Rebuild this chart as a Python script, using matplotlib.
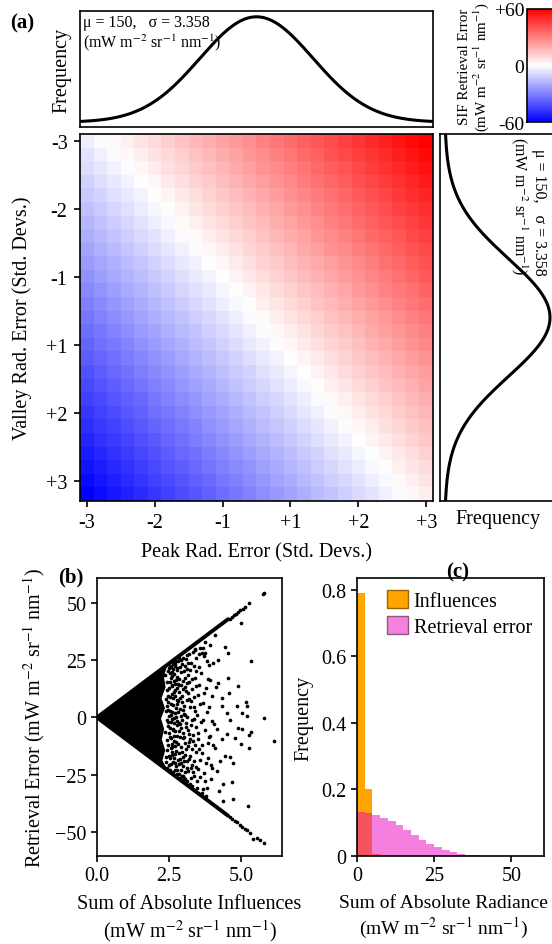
import numpy as np
import matplotlib
matplotlib.use("Agg")
import matplotlib.pyplot as plt
from matplotlib.patches import Patch

plt.rcParams['font.family'] = ['Liberation Serif', 'DejaVu Serif']
plt.rcParams['mathtext.fontset'] = 'stix'
plt.rcParams['axes.linewidth'] = 1.2
for ax_name in ('xtick', 'ytick'):
    plt.rcParams[f'{ax_name}.major.width'] = 1.2
    plt.rcParams[f'{ax_name}.major.size'] = 4
    plt.rcParams[f'{ax_name}.labelsize'] = 14.5
    plt.rcParams[f'{ax_name}.direction'] = 'out'

# ---------------- data ----------------
# radiance distribution used to perturb peak and valley
rad_mu = 150.0
rad_sigma = 3.358

std_labels = ['-3', '-2', '-1', '+1', '+2', '+3']
std_tick_idx = [0, 5, 10, 15, 20, 25]

# SIF error contribution of each peak-radiance step (columns) and valley step (rows)
peak_effect = [-2.0, 0.6, 3.1, 5.7, 8.2, 10.8, 13.4, 15.9, 18.5, 21.0, 23.6, 26.2, 28.7,
               31.3, 33.8, 36.4, 39.0, 41.5, 44.1, 46.6, 49.2, 51.8, 54.3, 56.9, 59.4, 62.0]
valley_effect = [2.0, 4.2, 6.3, 8.5, 10.6, 12.8, 14.9, 17.1, 19.2, 21.4, 23.5, 25.7, 27.8,
                 30.0, 32.1, 34.3, 36.4, 38.6, 40.7, 42.9, 45.0, 47.2, 49.3, 51.5, 53.6,
                 55.8, 57.9]

# (b) solid core of the point cloud, the two dense edges and the scattered points
core_x = [0.0, 2.45, 2.32, 2.38, 2.24, 2.36, 2.22, 2.33, 2.25, 2.37, 2.27, 2.45]
core_y = [0.0, 23.1, 18.0, 13.2, 8.5, 4.0, -0.5, -5.0, -9.6, -14.4, -18.8, -23.1]
edge_x = [0.0, 4.55]
edge_hi = [0.0, 43.0]
edge_lo = [0.0, -43.0]

infl_sum = [
    2.35, 2.38, 2.42, 2.44, 2.46, 2.48, 2.50, 2.52, 2.53, 2.55, 2.57, 2.58, 2.60, 2.61, 2.63,
    2.64, 2.66, 2.67, 2.69, 2.70, 2.71, 2.72, 2.74, 2.75, 2.77, 2.78, 2.79, 2.80, 2.43, 2.51,
    2.56, 2.62, 2.68, 2.73, 2.47, 2.59, 2.65, 2.76, 2.39, 2.45, 2.36, 2.41, 2.49, 2.54, 2.60,
    2.63, 2.66, 2.70, 2.74, 2.78, 2.80, 2.52, 2.58, 2.67, 2.72,
    2.41, 2.43, 2.44, 2.46, 2.47, 2.49, 2.50, 2.51, 2.53, 2.54, 2.55, 2.56, 2.57, 2.58, 2.59,
    2.60, 2.44, 2.48, 2.52, 2.57, 2.42, 2.59,
    2.61, 2.62, 2.63, 2.64, 2.65, 2.66, 2.67, 2.68, 2.69, 2.70, 2.71, 2.72, 2.73, 2.74, 2.75,
    2.76, 2.77, 2.78, 2.79, 2.80, 2.62, 2.68, 2.72, 2.76, 2.64, 2.79,
    2.82, 2.83, 2.85, 2.86, 2.88, 2.90, 2.91, 2.93, 2.94, 2.96, 2.97, 2.99, 3.00, 3.02, 3.03,
    3.05, 3.06, 3.08, 3.09, 3.11, 3.12, 3.14, 3.15, 3.17, 3.18, 3.20, 2.84, 2.92, 2.98, 3.07,
    3.13, 3.19, 2.87, 3.04, 3.16, 2.89, 3.01, 2.95,
    2.81, 2.82, 2.83, 2.84, 2.85, 2.86, 2.87, 2.88, 2.89, 2.90, 2.91, 2.92, 2.93, 2.94, 2.95,
    2.96, 2.97, 2.98, 2.99, 3.00, 2.83, 2.88, 2.97,
    3.01, 3.02, 3.03, 3.04, 3.05, 3.06, 3.07, 3.08, 3.09, 3.10, 3.11, 3.12, 3.13, 3.14, 3.15,
    3.16, 3.17, 3.18, 3.19, 3.20,
    3.22, 3.24, 3.26, 3.28, 3.30, 3.32, 3.34, 3.36, 3.38, 3.40, 3.42, 3.44, 3.46, 3.48, 3.50,
    3.52, 3.54, 3.56, 3.58, 3.60, 3.25, 3.33, 3.41, 3.47, 3.55, 3.29, 3.37, 3.51,
    3.21, 3.23, 3.25, 3.27, 3.29, 3.31, 3.33, 3.35, 3.37, 3.39, 3.23, 3.27, 3.31, 3.35, 3.39,
    3.41, 3.43, 3.45, 3.49, 3.53, 3.57, 3.59, 3.45, 3.53, 3.43,
    3.62, 3.65, 3.68, 3.70, 3.72, 3.75, 3.78, 3.80, 3.83, 3.86, 3.88, 3.90, 3.93, 3.96, 3.99,
    3.66, 3.74, 3.85, 3.69, 3.75, 3.92, 3.98, 3.75, 3.69, 3.92, 3.98,
    3.63, 3.67, 3.71, 3.77, 3.81, 3.84, 3.89, 3.94, 3.64, 3.79,
    4.04, 4.13, 4.21, 4.21, 4.33, 4.33, 4.16, 4.10, 4.27, 4.16, 4.36, 4.33, 4.44, 4.44, 4.05,
    4.08, 4.36, 4.50, 4.24, 4.02,
    4.54, 4.56, 4.58, 4.52, 4.62, 4.62, 4.68, 4.71, 4.73, 4.79, 4.87, 4.91, 4.91, 4.99, 5.00,
    5.02, 5.02, 5.16, 5.20, 5.22, 5.25, 5.29, 5.29, 5.34, 5.34, 5.78, 6.15,
    4.60, 4.68, 4.75, 4.82, 4.90, 4.97, 5.05, 5.12, 5.29, 5.75, 5.80,
    4.60, 4.70, 4.78, 4.85, 4.95, 5.02, 5.12, 5.20, 5.30, 5.43, 5.56, 5.66, 5.80,
]
retr_err = [
    18.5, -17.2, 12.1, -9.8, 20.3, 3.4, -21.0, 15.7, -4.6, 8.9, -13.5, 22.0, -0.8, 18.2, -19.4,
    5.6, -7.9, 11.3, -23.1, 23.4, -15.8, 1.9, 16.6, -10.9, 20.9, -3.2, 7.7, -18.6, -14.3, 0.5,
    -20.2, 13.9, -2.5, -21.3, 6.8, -11.4, 21.1, 12.8, 2.7, -1.9, -6.3, 7.9, -16.8, 19.6, 10.4,
    -5.1, 16.1, -12.7, 4.2, -22.9, 14.8, -8.4, -2.0, -17.6, 22.3,
    -19.5, 15.3, -1.2, -12.0, 9.6, 21.6, -6.8, 12.9, -17.9, 3.0, -22.8, 17.4, -9.0, 6.1, -15.0,
    20.0, 4.8, -3.8, 22.4, 0.9, -22.0, 14.1,
    -13.0, 2.3, 23.5, -23.8, 8.4, -0.2, 19.0, -10.1, 14.6, -6.0, 9.3, -19.8, 0.4, 24.5, -14.6,
    5.7, -24.8, 17.8, -8.1, 2.4, -16.4, 24.0, 12.0, -1.5, -5.6, 21.5,
    24.6, -6.0, 14.2, -24.9, 3.9, -13.1, 19.8, -19.9, 9.5, -1.1, 25.9, -9.2, 16.0, -26.4, 5.1,
    -16.3, 22.4, -4.0, 11.7, -22.0, 27.5, 0.3, -12.6, 18.4, -7.3, 8.2, -15.7, 25.0, -21.1, -27.1,
    14.9, -18.0, 8.3, -11.0, 24.0, -2.9, 1.6, -25.8,
    -11.7, 7.2, -20.4, 17.0, -2.4, 11.3, -18.3, 22.1, -8.4, 0.8, -23.1, 14.0, -4.8, -14.9, 6.6,
    23.2, -17.5, 12.4, -25.7, 3.3, 26.0, -26.5, -6.9,
    -18.9, 20.5, -8.6, 13.5, -24.0, 1.0, 17.1, -14.0, 25.5, -2.6, 7.8, -19.0, -28.0, 21.0, -5.6,
    10.5, -23.6, 27.6, -10.7, 15.4,
    -28.9, 20.7, -3.5, 12.3, -20.6, 28.6, -10.2, 4.4, -25.4, 17.2, -15.1, 25.8, 0.9, -31.0, 9.9,
    -6.6, 21.9, -18.8, 30.4, -2.0, 7.1, -23.7, 30.0, -27.8, 14.3, -13.8, -0.6, -22.5,
    -16.8, 4.6, -26.6, 24.0, -1.3, 16.8, -7.7, 9.0, -19.1, 29.3, -9.5, -22.1, -30.0, 22.5, -12.0,
    2.9, -21.6, 13.6, -9.4, 27.6, -26.0, 6.0, -4.1, -14.0, 20.5,
    19.5, -11.9, 6.2, -24.3, 26.9, -5.3, 13.0, -30.7, 2.2, -17.6, 22.8, -8.6, 31.9, -20.9, 9.4,
    -33.2, 33.0, 16.7, 30.3, 28.4, 16.5, -21.9, -27.7, -31.3, -8.1, -1.6,
    -15.5, -1.0, 10.9, -20.0, 24.5, -11.0, 4.6, -27.0, 28.0, -34.5,
    23.8, 13.3, 15.1, 25.2, 8.6, 4.9, -5.2, -13.2, -19.0, -23.3, -29.1, -9.6, -16.8, 31.0, -2.8,
    36.0, -36.4, -7.4, -32.0, -12.0,
    28.4, 17.2, 10.7, 2.0, -1.3, -17.5, -28.4, -35.7, -20.1, -8.8, 5.2, 13.6, -4.8, -11.7, 41.4,
    2.0, -5.2, 6.7, 0.6, 4.9, -38.6, -7.7, -13.2, 24.5, -6.2, -0.3, -10.2,
    43.2, 44.0, 44.6, 45.4, 46.1, 46.8, 47.6, 48.1, 50.1, 54.2, 54.6,
    -43.4, -44.3, -45.2, -45.8, -46.9, -48.0, -48.6, -49.4, -50.4, -53.0, -52.8, -53.5, -54.8,
]

# (c) normalised histograms, 2.5-wide bins starting at 0
bin_width = 2.5
infl_freq = [0.792, 0.202, 0.006]
err_freq = [0.132, 0.130, 0.122, 0.115, 0.106, 0.093, 0.079, 0.064, 0.049, 0.037,
            0.027, 0.019, 0.012, 0.007, 0.004, 0.002]

units = r'(mW m$^{-2}$ sr$^{-1}$ nm$^{-1}$)'

# ---------------- layout ----------------
W, H = 552, 945
fig = plt.figure(figsize=(W / 100, H / 100), dpi=100)


def box(x0, y0, x1, y1):
    return fig.add_axes([x0 / W, 1 - y1 / H, (x1 - x0) / W, (y1 - y0) / H])


ax_top = box(80, 12, 433, 128)
ax_hm = box(80, 135, 433, 502)
ax_rt = box(440, 135, 556, 502)
cax = box(527, 10, 562, 123)
ax_b = box(97, 579, 282, 857)
ax_c = box(357, 579, 544, 857)

# ---------------- (a) heatmap ----------------
grid = np.array(peak_effect)[None, :] - np.array(valley_effect)[:, None]
im = ax_hm.imshow(grid, cmap='bwr', vmin=-60, vmax=60, aspect='auto',
                  interpolation='nearest')
ax_hm.set_xticks(std_tick_idx, std_labels)
ax_hm.set_yticks(std_tick_idx, std_labels)
ax_hm.tick_params(axis='x', pad=5)
ax_hm.tick_params(axis='y', pad=5)
ax_hm.set_xlabel('Peak Rad. Error (Std. Devs.)', fontsize=14.5, labelpad=7)
ax_hm.set_ylabel('Valley Rad. Error (Std. Devs.)', fontsize=14.5, labelpad=10)

# marginal radiance distributions
span = 3.12 * rad_sigma
rad = np.linspace(rad_mu - span, rad_mu + span, 400)
pdf = np.exp(-0.5 * ((rad - rad_mu) / rad_sigma) ** 2) / (rad_sigma * np.sqrt(2 * np.pi))
pmax = pdf.max()
stat_text = f'μ = {rad_mu:.0f},   σ = {rad_sigma}\n' + units

ax_top.plot(rad, pdf, color='k', lw=2.2)
ax_top.set_xlim(rad[0], rad[-1])
ax_top.set_ylim(-0.045 * pmax, 1.055 * pmax)
ax_top.set_xticks([])
ax_top.set_yticks([])
ax_top.set_ylabel('Frequency', fontsize=14.5, labelpad=6)
ax_top.text(0.008, 0.975, stat_text, transform=ax_top.transAxes, ha='left', va='top',
            fontsize=11.5, linespacing=1.1)

ax_rt.plot(pdf, rad, color='k', lw=2.2)
ax_rt.set_ylim(rad[-1], rad[0])
ax_rt.set_xlim(-0.045 * pmax, 1.057 * pmax)
ax_rt.set_xticks([])
ax_rt.set_yticks([])
ax_rt.set_xlabel('Frequency', fontsize=14.5, labelpad=6)
ax_rt.text(0.92, 0.995, stat_text, transform=ax_rt.transAxes, ha='right', va='top',
           rotation=-90, fontsize=11.5, linespacing=1.1)

cb = fig.colorbar(im, cax=cax, ticks=[-60, 0, 60])
cb.ax.set_yticklabels(['-60', '0', '+60'])
cax.yaxis.set_ticks_position('left')
cax.yaxis.set_label_position('left')
cax.tick_params(length=0, pad=2, labelsize=14)
cb.outline.set_linewidth(1.2)
cb.set_label('SIF Retrieval Error\n' + units, fontsize=10.8, labelpad=2, linespacing=1.05)

fig.text(10 / W, 1 - 28 / H, '(a)', fontsize=15, fontweight='bold')

# ---------------- (b) scatter ----------------
ax_b.fill(core_x, core_y, color='k', lw=0)
ax_b.plot(edge_x, edge_hi, color='k', lw=2.8, solid_capstyle='round')
ax_b.plot(edge_x, edge_lo, color='k', lw=2.8, solid_capstyle='round')
ax_b.scatter(infl_sum, retr_err, s=7, c='k', linewidths=0)
ax_b.set_xlim(0, 6.42)
ax_b.set_ylim(-60.6, 61)
ax_b.set_xticks([0, 2.5, 5.0])
ax_b.set_yticks([-50, -25, 0, 25, 50])
ax_b.set_xlabel('Sum of Absolute Influences\n' + units, fontsize=14.5, linespacing=1.2,
                labelpad=6)
ax_b.set_ylabel('Retrieval Error ' + units, fontsize=14.5, labelpad=6)
fig.text(58 / W, 1 - 582 / H, '(b)', fontsize=15, fontweight='bold')

# ---------------- (c) histograms ----------------
infl_left = np.arange(len(infl_freq)) * bin_width
err_left = np.arange(len(err_freq)) * bin_width
orange = '#FFA500'
pink = (0.92, 0.0, 0.75, 0.5)
pink_solid = (0.96, 0.5, 0.875)
ax_c.bar(infl_left, infl_freq, width=bin_width, align='edge', color=orange, lw=0)
ax_c.bar(err_left, err_freq, width=bin_width, align='edge', color=pink, lw=0)
ax_c.set_xlim(0, 60.6)
ax_c.set_ylim(0, 0.836)
ax_c.set_xticks([0, 25, 50])
ax_c.set_yticks([0, 0.2, 0.4, 0.6, 0.8], ['0', '0.2', '0.4', '0.6', '0.8'])
ax_c.set_xlabel('Sum of Absolute Radiance\n' + units, fontsize=14, linespacing=1.2,
                labelpad=6)
ax_c.xaxis.label.set_x(0.46)
ax_c.set_ylabel('Frequency', fontsize=14.5, labelpad=6)
handles = [Patch(facecolor=orange, edgecolor='#9a6400', lw=1.0, label='Influences'),
           Patch(facecolor=pink_solid, edgecolor='#8a5a80', lw=1.0, label='Retrieval error')]
ax_c.legend(handles=handles, loc='upper right', frameon=False, fontsize=14.5,
            handlelength=1.0, handleheight=1.0, handletextpad=0.3, borderaxespad=0.2,
            labelspacing=0.25)
fig.text(446 / W, 1 - 577 / H, '(c)', fontsize=15, fontweight='bold')

fig.savefig('out.png', dpi=100)
